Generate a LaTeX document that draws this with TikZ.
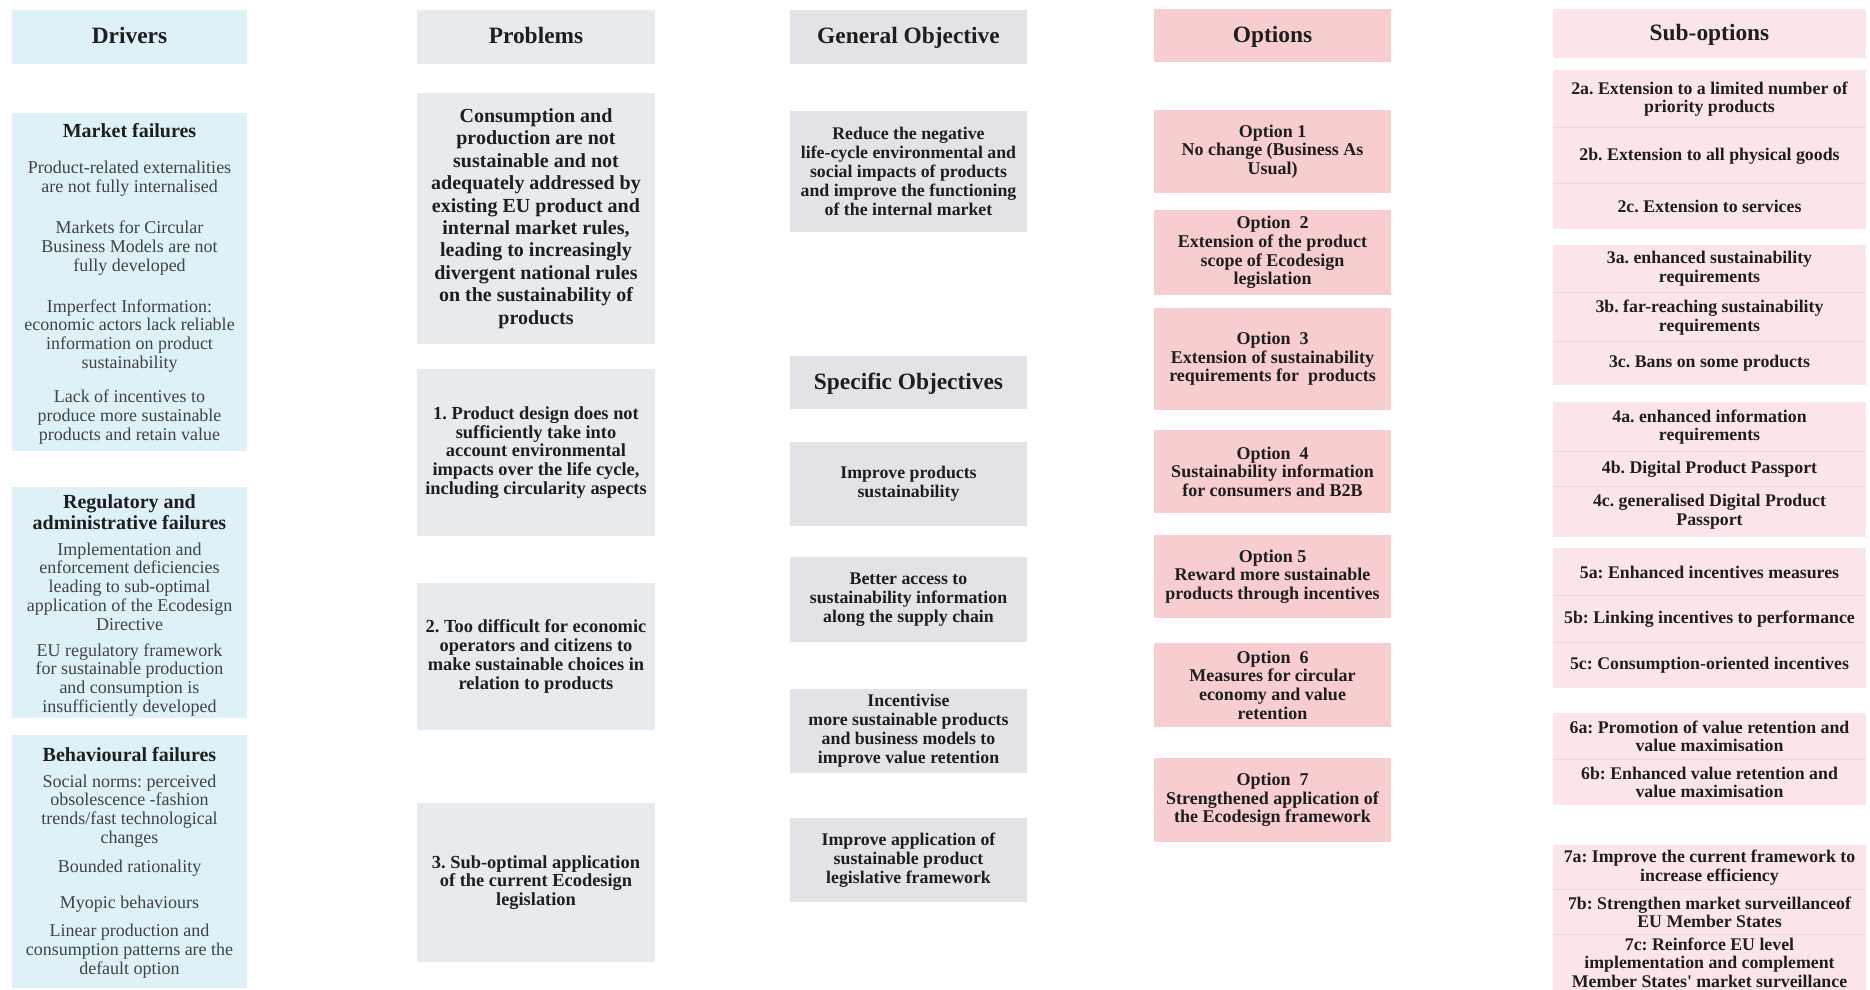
\documentclass[tikz,border=0pt]{standalone}
\usepackage{fontspec}
\setmainfont{Liberation Serif}
\definecolor{drvc}{HTML}{DDF1F6}
\definecolor{prbc}{HTML}{E8EBEE}
\definecolor{objc}{HTML}{E4E2E7}
\definecolor{optc}{HTML}{F8CDD0}
\definecolor{subc}{HTML}{FCE5E8}
\definecolor{sepc}{HTML}{F1D2D6}
\definecolor{txtc}{HTML}{1E1E1E}
\definecolor{bodyc}{HTML}{424242}
\frenchspacing
\begin{document}
\frenchspacing
\begin{tikzpicture}[x=0.5pt,y=-0.5pt,
  bx/.style={inner sep=1pt, align=center, text=txtc},
  hdr/.style={font=\fontsize{11.7}{13}\selectfont\bfseries, text height=0.68em, text depth=0pt},
  drvbox/.style={bx, fill=drvc, minimum width=117.5pt},
  drvhead/.style={align=center, text=txtc, font=\fontsize{10}{10.5}\selectfont\bfseries, inner sep=0pt},
  drvtxt/.style={align=center, text=bodyc, font=\fontsize{9}{9.4}\selectfont, inner sep=0pt},
  prbbox/.style={bx, fill=prbc, minimum width=119pt},
  objbox/.style={bx, fill=objc, minimum width=118.5pt},
  optbox/.style={bx, fill=optc, minimum width=118.5pt},
  subbox/.style={bx, fill=subc, minimum width=156.5pt, inner ysep=0pt},
  prbtxt/.style={font=\fontsize{9.2}{9.4}\selectfont\bfseries},
  objtxt/.style={font=\fontsize{8.9}{9.45}\selectfont\bfseries},
  opttxt/.style={font=\fontsize{9}{9.3}\selectfont\bfseries},
  subtxt/.style={font=\fontsize{8.9}{9.3}\selectfont\bfseries},
  sepline/.style={draw=sepc, line width=0.8pt},
]
\useasboundingbox[fill=white] (0,0) rectangle (1870,990);

% ---------------- Drivers ----------------
\node[drvbox, hdr, minimum height=27pt] (hdrv) at (129.5,37) {Drivers};
\node[drvbox, minimum height=169pt] (mkt) at (129.5,282) {};
\node[drvhead] (mkth) at (129.5,131) {Market failures};
\node[drvtxt] (mkt1) at (129.5,178.5) {Product-related externalities\\are not fully internalised};
\node[drvtxt] (mkt2) at (129.5,248) {Markets for Circular\\Business Models are not\\fully developed};
\node[drvtxt] (mkt3) at (129.5,336) {Imperfect Information:\\economic actors lack reliable\\information on product\\sustainability};
\node[drvtxt] (mkt4) at (129.5,417) {Lack of incentives to\\produce more sustainable\\products and retain value};

\node[drvbox, minimum height=115.5pt] (reg) at (129.5,602.5) {};
\node[drvhead] (regh) at (129.5,512.5) {Regulatory and\\administrative failures};
\node[drvtxt] (reg1) at (129.5,586.5) {Implementation and\\enforcement deficiencies\\leading to sub-optimal\\application of the Ecodesign\\Directive};
\node[drvtxt] (reg2) at (129.5,680) {EU regulatory framework\\for sustainable production\\and consumption is\\insufficiently developed};

\node[drvbox, minimum height=126.5pt] (beh) at (129.5,861.5) {};
\node[drvhead] (behh) at (129.5,755) {Behavioural failures};
\node[drvtxt] (beh1) at (129.5,811) {Social norms: perceived\\obsolescence -fashion\\trends/fast technological\\changes};
\node[drvtxt] (beh2) at (129.5,868) {Bounded rationality};
\node[drvtxt] (beh3) at (129.5,904) {Myopic behaviours};
\node[drvtxt] (beh4) at (129.5,951) {Linear production and\\consumption patterns are the\\default option};

% ---------------- Problems ----------------
\node[prbbox, hdr, minimum height=27pt] (hprb) at (536,37) {Problems};
\node[prbbox, minimum height=125.5pt, font=\fontsize{10}{11.2}\selectfont\bfseries] (prb0) at (536,218.5)
  {Consumption and\\production are not\\sustainable and not\\adequately addressed by\\existing EU product and\\internal market rules,\\leading to increasingly\\divergent national rules\\on the sustainability of\\products};
\node[prbbox, prbtxt, minimum height=83.5pt] (prb1) at (536,452.5)
  {1. Product design does not\\sufficiently take into\\account environmental\\impacts over the life cycle,\\including circularity aspects};
\node[prbbox, prbtxt, minimum height=73.5pt] (prb2) at (536,656.5)
  {2. Too difficult for economic\\operators and citizens to\\make sustainable choices in\\relation to products};
\node[prbbox, prbtxt, minimum height=79.5pt] (prb3) at (536,882.5)
  {3. Sub-optimal application\\of the current Ecodesign\\legislation};

% ---------------- Objectives ----------------
\node[objbox, hdr, minimum height=27pt] (hgo) at (908.5,37) {General Objective};
\node[objbox, objtxt, minimum height=60.5pt] (go) at (908.5,171.5)
  {Reduce the negative\\life-cycle environmental and\\social impacts of products\\and improve the functioning\\of the internal market};
\node[objbox, hdr, minimum height=26.5pt] (hso) at (908.5,382.5) {Specific Objectives};
\node[objbox, objtxt, minimum height=42pt] (so1) at (908.5,484) {Improve products\\sustainability};
\node[objbox, objtxt, minimum height=42.5pt] (so2) at (908.5,599.5) {Better access to\\sustainability information\\along the supply chain};
\node[objbox, objtxt, minimum height=42pt] (so3) at (908.5,731) {Incentivise\\more sustainable products\\and business models to\\improve value retention};
\node[objbox, objtxt, minimum height=42pt] (so4) at (908.5,860) {Improve application of\\sustainable product\\legislative framework};

% ---------------- Options ----------------
\node[optbox, hdr, minimum height=26.5pt] (hopt) at (1272.5,35.5) {Options};
\node[optbox, opttxt, minimum height=41.5pt] (opt1) at (1272.5,151.5) {Option 1\\No change (Business As\\Usual)};
\node[optbox, opttxt, minimum height=42.5pt] (opt2) at (1272.5,252.5) {Option\ \ 2\\Extension of the product\\scope of Ecodesign\\legislation};
\node[optbox, opttxt, minimum height=51pt] (opt3) at (1272.5,359) {Option\ \ 3\\Extension of sustainability\\requirements for\ \ products};
\node[optbox, opttxt, minimum height=41.5pt] (opt4) at (1272.5,471.5) {Option\ \ 4\\Sustainability information\\for consumers and B2B};
\node[optbox, opttxt, minimum height=41.5pt] (opt5) at (1272.5,576.5) {Option 5\\Reward more sustainable\\products through incentives};
\node[optbox, opttxt, minimum height=42pt] (opt6) at (1272.5,685) {Option\ \ 6\\Measures for circular\\economy and value\\retention};
\node[optbox, opttxt, minimum height=42pt] (opt7) at (1272.5,800) {Option\ \ 7\\Strengthened application of\\the Ecodesign framework};

% ---------------- Sub-options ----------------
\node[subbox, hdr, minimum height=24.5pt] (hsub) at (1709.5,33.5) {Sub-options};
\node[subbox, subtxt, minimum height=29pt] (s2a) at (1709.5,99) {2a. Extension to a limited number of\\priority products};
\node[subbox, subtxt, minimum height=28pt] (s2b) at (1709.5,156) {2b. Extension to all physical goods};
\node[subbox, subtxt, minimum height=22.5pt] (s2c) at (1709.5,206.5) {2c. Extension to services};
\node[subbox, subtxt, minimum height=24pt] (s3a) at (1709.5,269) {3a. enhanced sustainability\\requirements};
\node[subbox, subtxt, minimum height=24.5pt] (s3b) at (1709.5,317.5) {3b. far-reaching sustainability\\requirements};
\node[subbox, subtxt, minimum height=21.5pt] (s3c) at (1709.5,363.5) {3c. Bans on some products};
\node[subbox, subtxt, minimum height=25pt] (s4a) at (1709.5,427) {4a. enhanced information\\requirements};
\node[subbox, subtxt, minimum height=17.5pt] (s4b) at (1709.5,469.5) {4b. Digital Product Passport};
\node[subbox, subtxt, minimum height=25pt] (s4c) at (1709.5,512) {4c. generalised Digital Product\\Passport};
\node[subbox, subtxt, minimum height=24pt] (s5a) at (1709.5,572) {5a: Enhanced incentives measures};
\node[subbox, subtxt, minimum height=23.5pt] (s5b) at (1709.5,619.5) {5b: Linking incentives to performance};
\node[subbox, subtxt, minimum height=22.5pt] (s5c) at (1709.5,665.5) {5c: Consumption-oriented incentives};
\node[subbox, subtxt, minimum height=23.5pt] (s6a) at (1709.5,736.5) {6a: Promotion of value retention and\\value maximisation};
\node[subbox, subtxt, minimum height=22.5pt] (s6b) at (1709.5,782.5) {6b: Enhanced value retention and\\value maximisation};
\node[subbox, subtxt, minimum height=22.5pt] (s7a) at (1709.5,867.5) {7a: Improve the current framework to\\increase efficiency};
\node[subbox, subtxt, minimum height=22.5pt] (s7b) at (1709.5,912.5) {7b: Strengthen market surveillanceof\\EU Member States};
\node[subbox, subtxt, minimum height=27.5pt] (s7c) at (1709.5,962.5) {7c: Reinforce EU level\\implementation and complement\\Member States\textquotesingle{} market surveillance};

% separators between stacked sub-options
\foreach \a/\b in {s2a/s2b,s2b/s2c,s3a/s3b,s3b/s3c,s4a/s4b,s4b/s4c,s5a/s5b,s5b/s5c,s6a/s6b,s7a/s7b,s7b/s7c}
  \draw[sepline] (\b.north west) -- (\b.north east);
\end{tikzpicture}
\end{document}
